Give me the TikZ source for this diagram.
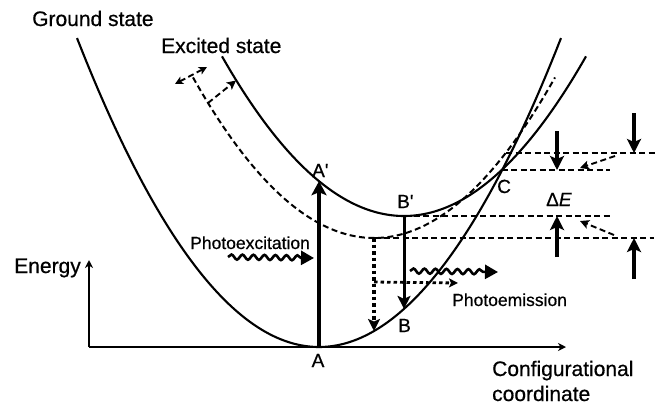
\documentclass[tikz,border=0pt]{standalone}
\usepackage{fontspec}
\setmainfont{Liberation Sans}[FakeBold=0.6]
\usetikzlibrary{arrows.meta,decorations.pathmorphing}
\begin{document}
\begin{tikzpicture}[x=1pt,y=-1pt,
  curve/.style={line width=2.1pt},
  axis/.style={line width=2.2pt,-{Stealth[length=8pt,width=8pt,inset=2.5pt]}},
  dashln/.style={line width=2pt,dash pattern=on 6pt off 3.5pt},
  dotln/.style={line width=3.2pt,dash pattern=on 3.5pt off 3pt},
  bigarrow/.style={line width=3.4pt,-{Stealth[length=14pt,width=14pt,inset=3pt]}},
  thickarrow/.style={line width=4pt,-{Stealth[length=14pt,width=15pt,inset=3pt]}},
  midarrow/.style={line width=3pt,-{Stealth[length=13pt,width=13pt,inset=3pt]}},
  smalltip/.style={-{Stealth[length=9pt,width=9pt,inset=2pt]}},
  dottip/.style={-{Stealth[length=12pt,width=12pt,inset=2.5pt]}},
  wavy/.style={line width=2.6pt,-{Triangle[length=13pt,width=14pt]},decorate,
    decoration={snake,amplitude=2.5pt,segment length=11pt,post length=11pt}},
  lab/.style={inner sep=0pt,font=\fontsize{21}{24}\selectfont},
  ptlab/.style={inner sep=0pt,font=\fontsize{19}{22}\selectfont},
  smlab/.style={inner sep=0pt,font=\fontsize{17.5}{20}\selectfont},
]
\path[use as bounding box] (0,0) rectangle (660,408);

% key points
\coordinate (O) at (89,347);
\coordinate (Xend) at (566,347);
\coordinate (Yend) at (89,260);
\coordinate (A) at (319,347);
\coordinate (Ap) at (319,181.2);
\coordinate (Bp) at (404,216);
\coordinate (B) at (404,308.9);
\coordinate (V) at (374,238);
\coordinate (Vg) at (374,331);
\coordinate (H1) at (374,282);
\coordinate (H2) at (458,283);
\coordinate (C) at (501.5,170);
\coordinate (Cd) at (506,153);
\coordinate (L1b) at (655,153);
\coordinate (L2b) at (610,170);
\coordinate (L3b) at (610,216);
\coordinate (L4b) at (654,238);
\coordinate (D1s) at (634,113);
\coordinate (D1e) at (634,153);
\coordinate (D2s) at (557,131);
\coordinate (D2e) at (557,170);
\coordinate (U1s) at (557,257);
\coordinate (U1e) at (557,216);
\coordinate (U2s) at (634,279);
\coordinate (U2e) at (634,238);
\coordinate (E1s) at (615,156);
\coordinate (E1e) at (580,168);
\coordinate (E2s) at (614,235);
\coordinate (E2e) at (580,221);
\coordinate (T1) at (175,84);
\coordinate (T2) at (207,67);
\coordinate (S1) at (208,103);
\coordinate (S2) at (236,80.5);
\coordinate (W1s) at (228,257);
\coordinate (W1e) at (314,258);
\coordinate (W2s) at (410,271);
\coordinate (W2e) at (498,272);

% axes
\draw[axis] (O) -- (Xend);
\draw[axis] (O) -- (Yend);

% potential curves
\draw[curve] plot[domain=77:561,samples=90,smooth]
  (\x,{347-(0.072636*(\x-319))*(0.072636*(\x-319))});
\draw[curve] plot[domain=222:586,samples=90,smooth]
  (\x,{216-(0.06943*(\x-404))*(0.06943*(\x-404))});
\draw[dashln] plot[domain=193:555,samples=90,smooth]
  (\x,{238-(0.07*(\x-374))*(0.07*(\x-374))});

% horizontal dashed levels
\draw[dashln] (Cd) -- (L1b);
\draw[dashln] (C) -- (L2b);
\draw[dashln] (Bp) -- (L3b);
\draw[dashln] (V) -- (L4b);

% top-left shift markers
\draw[dashln,line width=1.9pt,{Stealth[length=8pt,width=8pt,inset=2pt]}-{Stealth[length=8pt,width=8pt,inset=2pt]}] (T1) -- (T2);
\draw[dashln,line width=1.9pt,smalltip] (S1) -- (S2);

% transitions
\draw[thickarrow] (A) -- (Ap);
\draw[midarrow] (Bp) -- (B);
\draw[dotln,dottip] (V) -- (Vg);
\draw[dotln,line width=2.8pt,smalltip] (H1) -- (H2);

% wavy photons
\draw[wavy] (W1s) -- (W1e);
\draw[wavy] (W2s) -- (W2e);

% right-side energy arrows
\draw[bigarrow] (D1s) -- (D1e);
\draw[bigarrow] (D2s) -- (D2e);
\draw[bigarrow] (U1s) -- (U1e);
\draw[bigarrow] (U2s) -- (U2e);
\draw[dashln,line width=1.9pt,smalltip] (E1s) -- (E1e);
\draw[dashln,line width=1.9pt,smalltip] (E2s) -- (E2e);

% labels
\node[lab,anchor=base west] (gs) at (32,26) {Ground state};
\node[lab,anchor=base west] (es) at (161,53) {Excited state};
\node[lab,anchor=base east] (en) at (81,273) {Energy};
\node[lab,anchor=base west] (cc1) at (492,376) {Configurational};
\node[lab,anchor=base west] (cc2) at (492,401) {coordinate};
\node[smlab,anchor=base west] (pex) at (190,249) {Photoexcitation};
\node[smlab,anchor=base west] (pem) at (452,306) {Photoemission};
\node[ptlab,anchor=base] (lA) at (318,367) {A};
\node[ptlab,anchor=base west] (lAp) at (312,177) {A\textquotesingle};
\node[ptlab,anchor=base west] (lBp) at (397,208) {B\textquotesingle};
\node[ptlab,anchor=base west] (lB) at (398,332) {B};
\node[ptlab,anchor=base west] (lC) at (497,193) {C};
\node[ptlab,anchor=base west] (ldE) at (546,206) {Δ\textit{E}};
\end{tikzpicture}
\end{document}
